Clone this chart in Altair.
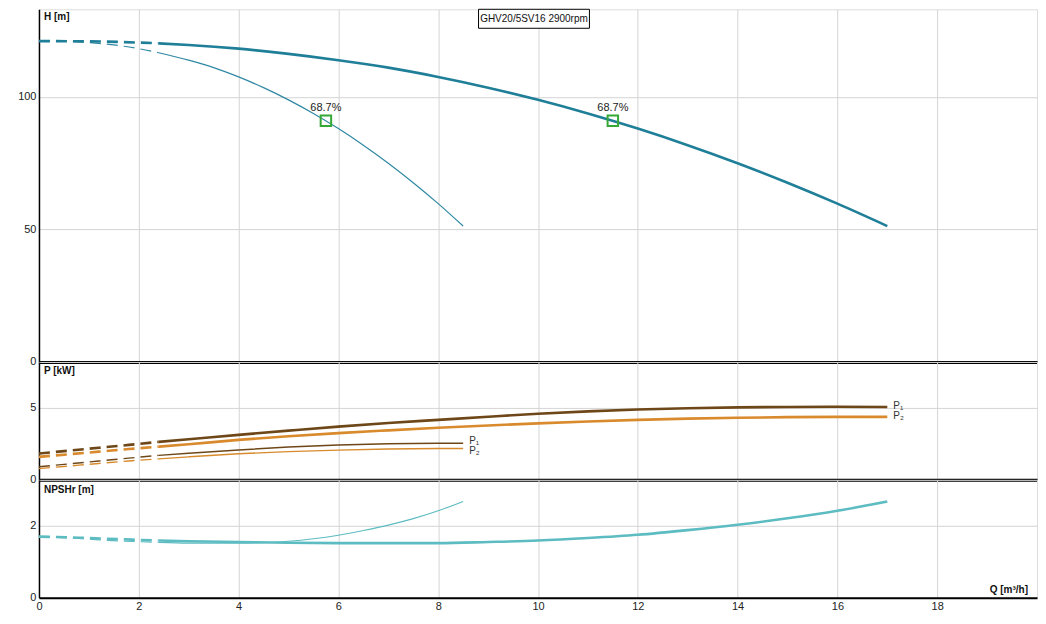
import altair as alt
import pandas as pd

# ---------------- data ----------------
Q_H_MAIN = [0, 1, 2, 2.4, 3, 4, 5, 6, 7, 8, 9, 10, 11, 12, 13, 14, 15, 16, 17]
H_MAIN = [121.0, 120.9, 120.45, 120.15, 119.55, 118.15, 116.2, 113.8, 111.0, 107.5,
          103.45, 98.85, 93.7, 88.0, 81.75, 74.95, 67.6, 59.7, 51.25]
Q_H_THIN = [0, 0.5, 1, 1.5, 2, 2.4, 3, 3.5, 4, 4.5, 5, 5.5, 6, 6.5, 7, 7.5, 8, 8.5]
H_THIN = [121.0, 120.9, 120.45, 119.55, 118.15, 116.6, 113.8, 111.0, 107.5, 103.45,
          98.85, 93.7, 88.0, 81.75, 74.95, 67.6, 59.7, 51.25]

Q_P_MAIN = [0, 0.6, 1.2, 1.8, 2.4, 3, 4, 5, 6, 7, 8, 9, 10, 11, 12, 13, 14, 15, 16, 17]
P1_MAIN = [1.83, 2.03, 2.23, 2.43, 2.64, 2.82, 3.13, 3.42, 3.70, 3.95, 4.17, 4.39, 4.60,
           4.76, 4.89, 4.98, 5.04, 5.07, 5.08, 5.07]
P2_MAIN = [1.60, 1.78, 1.96, 2.14, 2.31, 2.47, 2.78, 3.03, 3.25, 3.44, 3.62, 3.78, 3.93,
           4.06, 4.17, 4.26, 4.32, 4.36, 4.38, 4.38]
Q_P_THIN = [0, 0.6, 1.2, 1.8, 2.4, 3, 4, 5, 6, 7, 8, 8.5]
P1_THIN = [0.91, 1.11, 1.31, 1.51, 1.70, 1.85, 2.08, 2.28, 2.42, 2.51, 2.54, 2.54]
P2_THIN = [0.78, 0.96, 1.14, 1.31, 1.46, 1.60, 1.81, 1.96, 2.07, 2.15, 2.18, 2.18]

Q_N_MAIN = [0, 0.8, 1.6, 2.4, 3, 4, 5, 6, 7, 8, 9, 10, 11, 12, 13, 14, 15, 16, 17]
N_MAIN = [1.70, 1.67, 1.63, 1.59, 1.57, 1.55, 1.53, 1.52, 1.52, 1.52, 1.55, 1.59, 1.66,
          1.75, 1.88, 2.03, 2.21, 2.42, 2.68]
Q_N_THIN = [0, 0.4, 0.8, 1.2, 1.6, 2.0, 2.4, 3, 3.5, 4, 4.5, 5, 5.5, 6, 6.5, 7, 7.5, 8, 8.5]
N_THIN = [1.70, 1.68, 1.65, 1.61, 1.58, 1.56, 1.54, 1.52, 1.52, 1.52, 1.53, 1.57, 1.64,
          1.74, 1.87, 2.02, 2.20, 2.42, 2.68]

EFF_Q = [11.5, 5.75]
EFF_H = [91.0, 91.0]
EFF_LABEL = ["68.7%", "68.7%"]

P_LABEL_TEXT = ["P\u2081", "P\u2082", "P\u2081", "P\u2082"]
P_LABEL_Q = [17, 17, 8.5, 8.5]
P_LABEL_VAL = [5.07, 4.38, 2.54, 2.18]
P_LABEL_DY = [-1, -1, -2, 3]

TITLE = "GHV20/5SV16 2900rpm"
X_TICKS = [0, 2, 4, 6, 8, 10, 12, 14, 16, 18]

# ---------------- styling ----------------
FONT = "Liberation Sans"
GRID = "#d4d4d4"
C_H = "#1f7f98"
C_H_THIN = "#2f88a3"
C_P1 = "#6e4718"
C_P2 = "#d88a2c"
C_N = "#5cbcc1"
DASH = [11, 6]
W = 999


def xenc(bottom=False):
    if bottom:
        ax = alt.Axis(values=X_TICKS, ticks=False, labelPadding=3, labelFont=FONT,
                      labelFontSize=11, labelColor="#222", labelFlush=False,
                      domainColor="black", domainWidth=2, gridColor=GRID, title=None)
    else:
        ax = alt.Axis(values=X_TICKS, labels=False, ticks=False, domainColor="black",
                      domainWidth=3, gridColor=GRID, title=None,
                      minExtent=0, maxExtent=0)
    return alt.X("Q:Q", scale=alt.Scale(domain=[0, 20], nice=False, zero=False), axis=ax)


def yenc(field, top, ticks):
    ax = alt.Axis(values=ticks, ticks=False, labelPadding=3, labelFont=FONT,
                  labelFontSize=11, labelColor="#222", domainColor="black",
                  domainWidth=1.5, gridColor=GRID, minExtent=30, maxExtent=30,
                  title=None)
    return alt.Y(f"{field}:Q", scale=alt.Scale(domain=[0, top], nice=False), axis=ax)


def curve(qs, vs, field, top, ticks, color, width, bottom=False):
    df = pd.DataFrame({"Q": qs, field: vs})
    base = alt.Chart(df)
    dashed = base.transform_filter("datum.Q <= 2.4").mark_line(
        color=color, strokeWidth=width, strokeDash=DASH, interpolate="monotone"
    ).encode(x=xenc(bottom), y=yenc(field, top, ticks))
    solid = base.transform_filter("datum.Q >= 2.4").mark_line(
        color=color, strokeWidth=width, interpolate="monotone"
    ).encode(x=xenc(bottom), y=yenc(field, top, ticks))
    return [dashed, solid]


def axis_label(text, x, y, align="left"):
    return alt.Chart(pd.DataFrame({"t": [text]})).mark_text(
        font=FONT, fontSize=10, fontWeight="bold", align=align, baseline="middle",
        color="#111"
    ).encode(text="t:N", x=alt.value(x), y=alt.value(y))


# ---------------- H panel ----------------
H_TOP = 133
H_TICKS = [0, 50, 100]
h_layers = []
h_layers += curve(Q_H_THIN, H_THIN, "H", H_TOP, H_TICKS, C_H_THIN, 1.2)
h_layers += curve(Q_H_MAIN, H_MAIN, "H", H_TOP, H_TICKS, C_H, 2.6)

eff_df = pd.DataFrame({"Q": EFF_Q, "H": EFF_H, "lab": EFF_LABEL})
eff_pts = alt.Chart(eff_df).mark_point(
    shape="square", filled=False, size=110, strokeWidth=2, color="#35a835", opacity=1
).encode(x=xenc(), y=yenc("H", H_TOP, H_TICKS))
eff_txt = alt.Chart(eff_df).mark_text(
    font=FONT, fontSize=11, dy=-13, color="#222"
).encode(x=xenc(), y=yenc("H", H_TOP, H_TICKS), text="lab:N")

title_df = pd.DataFrame({"t": [TITLE]})
title_box = alt.Chart(title_df).mark_rect(
    fill="white", stroke="black", strokeWidth=1
).encode(x=alt.value(440), x2=alt.value(551), y=alt.value(0), y2=alt.value(19))
title_txt = alt.Chart(title_df).mark_text(
    font=FONT, fontSize=10, color="#111", baseline="middle"
).encode(text="t:N", x=alt.value(495.5), y=alt.value(10))

h_chart = alt.layer(
    *h_layers, eff_pts, eff_txt, title_box, title_txt, axis_label("H [m]", 5, 8)
).properties(width=W, height=353)

# ---------------- P panel ----------------
P_TOP = 8.2
P_TICKS = [0, 5]
p_layers = []
p_layers += curve(Q_P_THIN, P2_THIN, "P", P_TOP, P_TICKS, C_P2, 1.4)
p_layers += curve(Q_P_THIN, P1_THIN, "P", P_TOP, P_TICKS, C_P1, 1.4)
p_layers += curve(Q_P_MAIN, P2_MAIN, "P", P_TOP, P_TICKS, C_P2, 2.6)
p_layers += curve(Q_P_MAIN, P1_MAIN, "P", P_TOP, P_TICKS, C_P1, 2.6)

plab_df = pd.DataFrame({"Q": P_LABEL_Q, "P": P_LABEL_VAL, "t": P_LABEL_TEXT})
p_labels = []
for i in range(len(P_LABEL_TEXT)):
    p_labels.append(
        alt.Chart(plab_df.iloc[[i]]).mark_text(
            font=FONT, fontSize=10, align="left", baseline="middle", dx=6,
            dy=P_LABEL_DY[i], color="#333"
        ).encode(x=xenc(), y=yenc("P", P_TOP, P_TICKS), text="t:N")
    )

p_chart = alt.layer(
    *p_layers, *p_labels, axis_label("P [kW]", 5, 9)
).properties(width=W, height=118)

# ---------------- NPSH panel ----------------
N_TOP = 3.28
N_TICKS = [0, 2]
n_layers = []
n_layers += curve(Q_N_THIN, N_THIN, "N", N_TOP, N_TICKS, C_N, 1.1, bottom=True)
n_layers += curve(Q_N_MAIN, N_MAIN, "N", N_TOP, N_TICKS, C_N, 2.6, bottom=True)

n_chart = alt.layer(
    *n_layers, axis_label("NPSHr [m]", 5, 10), axis_label("Q [m\u00b3/h]", 990, 110, "right")
).properties(width=W, height=118)

chart = alt.vconcat(h_chart, p_chart, n_chart, spacing=0, bounds="flush").properties(
    padding={"left": 0, "top": 0, "right": 0, "bottom": 0}
).configure_view(stroke="black", strokeWidth=1).configure(background="white")

chart.save("out.html", embed_options={"renderer": "svg", "actions": False})
